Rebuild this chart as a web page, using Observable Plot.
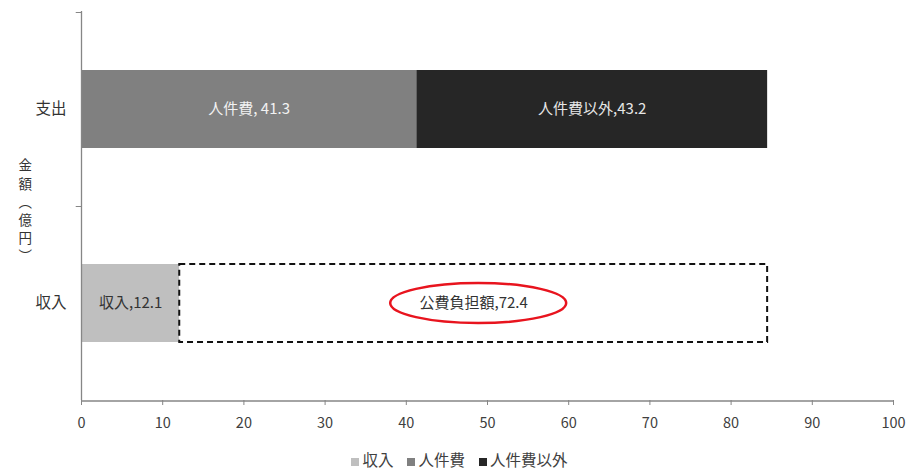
<!DOCTYPE html>
<html><head><meta charset="utf-8">
<script src="https://cdn.jsdelivr.net/npm/d3@7"></script>
<script src="https://cdn.jsdelivr.net/npm/@observablehq/plot@0.6"></script>
<style>
body{margin:0;background:#fff;font-family:"Noto Sans CJK JP","Noto Sans",sans-serif;}
#legend{display:flex;justify-content:center;gap:14px;font-size:15.5px;color:#404040;height:28px;align-items:center;padding-left:10px}
#legend span.sw{display:inline-block;width:8px;height:8px;margin-right:3px;vertical-align:middle}
</style></head>
<body><div id="chart"></div><div id="legend"></div>
<script>
const categories = ["支出", "収入"];
const segLabels = ["人件費", "人件費以外", "収入", "公費負担額"];
const segCats = ["支出", "支出", "収入", "収入"];
const segValues = [41.3, 43.2, 12.1, 72.4];
const segText = ["人件費, 41.3", "人件費以外,43.2", "収入,12.1", "公費負担額,72.4"];
const legendKeys = ["収入", "人件費", "人件費以外"];
const legendColors = ["#bfbfbf", "#808080", "#262626"];
const xTicks = [0,10,20,30,40,50,60,70,80,90,100];
const yTitle = "金\n額\n︵\n億\n円\n︶";

// build table with cumulative offsets
const acc = {};
const rows = segLabels.map((s, i) => {
  const c = segCats[i];
  const x1 = acc[c] || 0;
  const x2 = x1 + segValues[i];
  acc[c] = x2;
  return {seg: s, cat: c, x1, x2, mid: (x1 + x2) / 2, text: segText[i]};
});
const filled = rows.filter(d => d.seg !== "公費負担額");
const dashed = rows.filter(d => d.seg === "公費負担額");
const textColor = {"人件費": "#f2f2f2", "人件費以外": "#e6e6e6", "収入": "#333", "公費負担額": "#333"};

const chart = Plot.plot({
  width: 909, height: 445,
  marginLeft: 81, marginRight: 16, marginTop: 11, marginBottom: 45,
  style: {fontFamily: '"Noto Sans CJK JP","Noto Sans",sans-serif', background: "#fff"},
  x: {domain: [0, 100], ticks: xTicks},
  y: {domain: categories, paddingInner: 0.6, paddingOuter: 0.3},
  color: {domain: legendKeys, range: legendColors},
  marks: [
    Plot.barX(filled, {x1: "x1", x2: "x2", y: "cat", fill: "seg"}),
    Plot.barX(dashed, {x1: "x1", x2: "x2", y: "cat", fill: "white", stroke: "#111", strokeWidth: 2, strokeDasharray: "6,4"}),
    Plot.text(rows, {x: "mid", y: "cat", text: "text", fill: d => textColor[d.seg], fontSize: 15}),
    Plot.ruleX([0], {stroke: "#868686", strokeWidth: 1.3}),
    Plot.ruleY(["収入"], {x1: 0, x2: 100, dy: 97.5, stroke: "#868686", strokeWidth: 1.3}),
    Plot.ruleY(["支出"], {x1: -0.65, x2: 0, dy: 97, stroke: "#868686"}),
    Plot.ruleY(["支出"], {x1: -0.65, x2: 0, dy: -97, stroke: "#868686"}),
    Plot.axisX({tickSize: 5, stroke: "#868686", fill: "#404040", fontSize: 14.5, tickPadding: 12, label: null}),
    Plot.axisY({tickSize: 0, tickPadding: 15, fill: "#333", fontSize: 15.5, label: null}),
    Plot.text([yTitle], {frameAnchor: "left", dx: -63, dy: 4, fontSize: 13.5, lineHeight: 1.35, fill: "#333"})
  ]
});
document.getElementById("chart").appendChild(chart);

// red ellipse around 公費負担額 label
const xs = chart.scale("x"), ys = chart.scale("y");
const d = dashed[0];
const cx = xs.apply(d.mid) + 5;
const cy = ys.apply(d.cat) + ys.bandwidth / 2;
const ns = "http://www.w3.org/2000/svg";
const el = document.createElementNS(ns, "ellipse");
el.setAttribute("cx", cx); el.setAttribute("cy", cy);
el.setAttribute("rx", 88); el.setAttribute("ry", 20);
el.setAttribute("fill", "none"); el.setAttribute("stroke", "#e8141e"); el.setAttribute("stroke-width", 2.5);
chart.appendChild(el);

const lg = document.getElementById("legend");
legendKeys.forEach((k, i) => {
  const s = document.createElement("span");
  s.innerHTML = `<span class="sw" style="background:${legendColors[i]}"></span>${k}`;
  lg.appendChild(s);
});
</script></body></html>
